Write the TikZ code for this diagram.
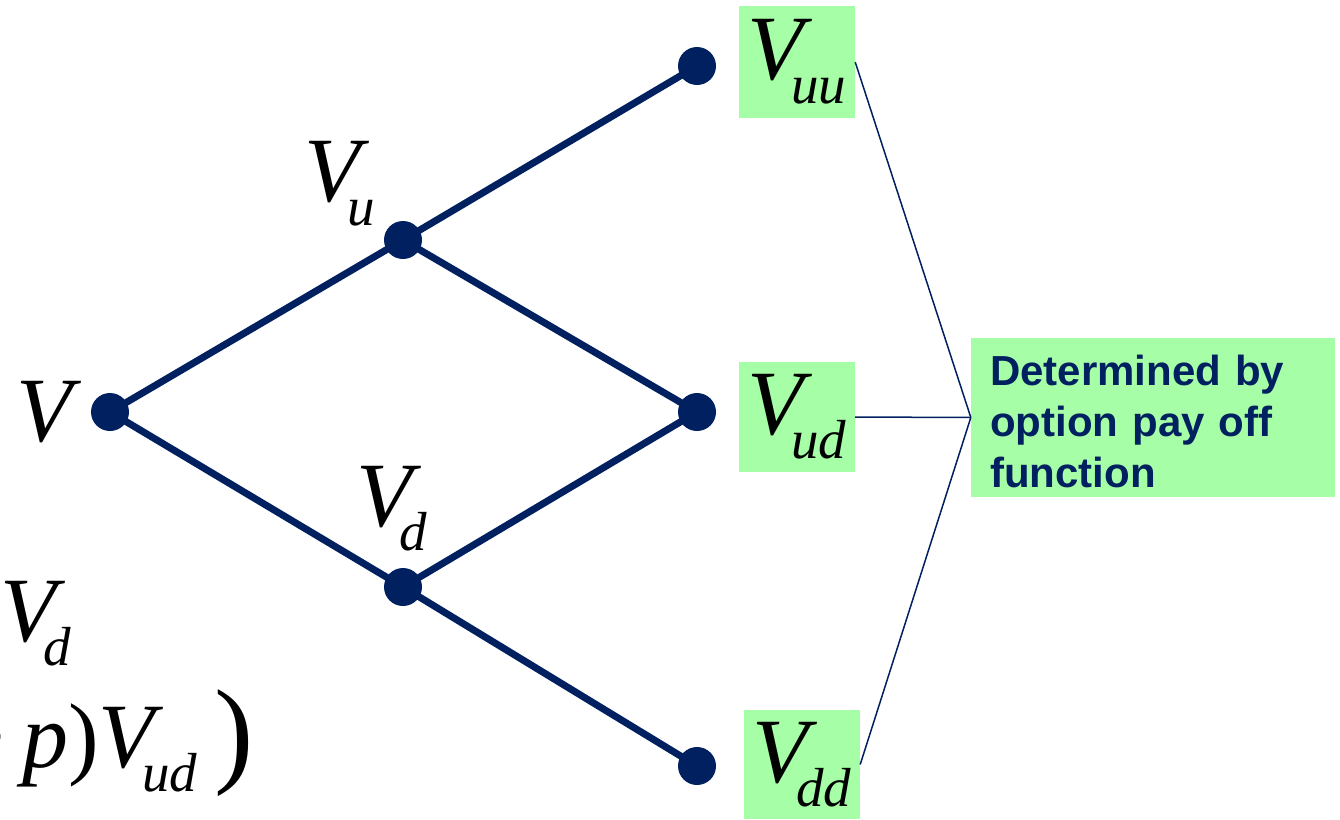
\documentclass[tikz,border=0pt]{standalone}
\usepackage{fontspec}
\setmainfont{Liberation Serif}
\newfontfamily\arialfont{Liberation Sans}
\usetikzlibrary{backgrounds}
\definecolor{navy}{HTML}{002060}
\definecolor{lgreen}{HTML}{A6FFA6}
\newcommand{\bigV}{{\fontsize{92}{92}\selectfont\itshape V}}
\newcommand{\sbs}[1]{\kern-13pt\raisebox{-24pt}{\fontsize{55}{55}\selectfont\itshape #1}}
\begin{document}
\begin{tikzpicture}[x=1pt,y=-1pt,
  dot/.style={circle,fill=navy,inner sep=0pt,minimum size=38pt},
  edge/.style={navy,line width=7pt},
  thin/.style={navy,line width=1.5pt},
  gbox/.style={fill=lgreen,inner sep=0pt,minimum width=116pt},
  lab/.style={anchor=base west,inner sep=0pt},
  rbox/.style={fill=lgreen,minimum width=364pt,minimum height=159pt},
  rtext/.style={anchor=north west,inner sep=0pt,text width=326pt,align=left,text=navy,
    font=\arialfont\bfseries\fontsize{42}{51}\selectfont}]
\useasboundingbox (0,0) rectangle (1340,819);
% tree nodes
\node[dot] (r) at (110,412) {};
\node[dot] (u) at (403,240) {};
\node[dot] (d) at (403,587) {};
\node[dot] (uu) at (697,66) {};
\node[dot] (ud) at (697,412) {};
\node[dot] (dd) at (697,766) {};
\begin{pgfonlayer}{background}
\draw[edge] (r.center) -- (u.center);
\draw[edge] (r.center) -- (d.center);
\draw[edge] (u.center) -- (uu.center);
\draw[edge] (u.center) -- (ud.center);
\draw[edge] (d.center) -- (ud.center);
\draw[edge] (d.center) -- (dd.center);
\end{pgfonlayer}
% labels
\node[lab] (lr) at (16,441) {\bigV};
\node[lab] (lu) at (304,201) {\bigV\sbs{u}};
\node[lab] (ld) at (356,526) {\bigV\sbs{d}};
% green boxes
\node[gbox,minimum height=112pt] (buu) at (797,62) {\bigV\sbs{uu}};
\node[gbox,minimum height=110pt] (bud) at (797,417) {\bigV\sbs{ud}};
\node[gbox,minimum height=109pt] (bdd) at (802,764.5) {\bigV\sbs{dd}};
\node[rbox] (det) at (1153,417.5) {};
\node[rtext] (dettext) at (990,355) {Determined by\\option pay off\\function};
\draw[thin] (buu.east) -- (det.west);
\draw[thin] (bud.east) -- (det.west);
\draw[thin] (bdd.east) -- (det.west);
% cropped formula at left
\node[lab] (f1) at (0,641) {\bigV\sbs{d}};
\node[anchor=base east,inner sep=0pt] (fm) at (6,767) {\fontsize{92}{92}\selectfont −};
\node[lab] (f2) at (22,767) {{\fontsize{92}{92}\selectfont\itshape p\upshape)}\bigV\sbs{ud}};
\node[lab] (f3) at (214,771) {\fontsize{118}{118}\selectfont )};
\end{tikzpicture}
\end{document}
